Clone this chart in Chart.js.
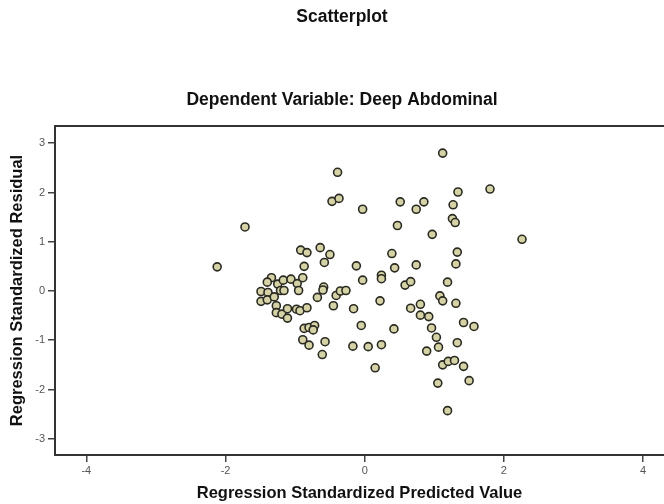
<!DOCTYPE html>
<html>
<head>
<meta charset="utf-8">
<script src="https://cdn.jsdelivr.net/npm/chart.js@4"></script>
<style>
  html, body { margin: 0; padding: 0; background: #ffffff; }
  #wrap { width: 664px; height: 504px; }
</style>
</head>
<body>
<div id="wrap"><canvas id="scatter"></canvas></div>
<script>
const chartTitle = "Scatterplot";
const chartSubtitle = "Dependent Variable: Deep Abdominal";
const xTitle = "Regression Standardized Predicted Value";
const yTitle = "Regression Standardized Residual";

const xTicks = [-4, -2, 0, 2, 4];
const yTicks = [-3, -2, -1, 0, 1, 2, 3];

// standardized predicted values (x) and residuals (y)
const predicted = [
    -2.12, -1.72, -0.39, -0.47, -0.37, -0.03, 0.51, 0.74, 0.85, 0.47,
    0.97, 1.12, 1.34, 1.27, 1.26, 1.30, 1.80, 2.26, -0.92, -0.83,
    -0.64, -0.50, -0.58, 0.39, 0.43, 0.74, -0.12, -0.87, -0.03, 0.24,
    0.24, 0.58, 0.66, 1.33, 1.31, 1.19, 1.08, 1.12, 1.31, 0.22,
    0.80, 0.66, -1.34, -1.40, -1.25, -1.17, -1.06, -0.97, -0.89, -0.95,
    -1.21, -1.16, -1.49, -1.39, -1.49, -1.40, -1.30, -0.59, -0.60, -0.68,
    -0.41, -0.35, -0.27, -0.45, -1.27, -1.27, -1.19, -1.11, -1.11, -0.98,
    -0.93, -0.83, -0.87, -0.80, -0.72, -0.74, -0.89, -0.80, -0.57, -0.61,
    -0.16, -0.05, -0.17, 0.05, 0.24, 0.15, 0.42, 0.80, 0.92, 0.96,
    1.03, 1.06, 0.89, 1.12, 1.20, 1.29, 1.42, 1.50, 1.05, 1.19,
    1.42, 1.57, 1.33
];
const residuals = [
    0.49, 1.30, 2.41, 1.82, 1.88, 1.66, 1.81, 1.66, 1.81, 1.33,
    1.15, 2.80, 2.01, 1.75, 1.47, 1.39, 2.07, 1.05, 0.83, 0.78,
    0.88, 0.74, 0.58, 0.76, 0.47, 0.53, 0.51, 0.50, 0.22, 0.32,
    0.25, 0.12, 0.19, 0.79, 0.55, 0.18, -0.10, -0.20, -0.25, -0.20,
    -0.27, -0.35, 0.27, 0.18, 0.14, 0.22, 0.24, 0.15, 0.27, 0.01,
    0.01, 0.01, -0.01, -0.03, -0.21, -0.18, -0.12, 0.08, 0.02, -0.13,
    -0.09, 0.00, 0.01, -0.30, -0.30, -0.44, -0.47, -0.36, -0.55, -0.37,
    -0.40, -0.34, -0.76, -0.74, -0.70, -0.79, -0.99, -1.10, -1.03, -1.29,
    -0.36, -0.70, -1.12, -1.13, -1.09, -1.56, -0.77, -0.49, -0.52, -0.75,
    -0.94, -1.14, -1.22, -1.50, -1.43, -1.41, -1.53, -1.82, -1.87, -2.43,
    -0.64, -0.72, -1.05
];

const fontFamily = '"Liberation Sans", Arial, Helvetica, sans-serif';

// SPSS style headings above the plot plus the top edge of the frame
const frameAndTitles = {
    id: 'frameAndTitles',
    afterDraw: (chart) => {
        const {ctx, chartArea} = chart;
        ctx.save();
        ctx.fillStyle = '#111111';
        ctx.textAlign = 'center';
        ctx.textBaseline = 'middle';
        ctx.font = 'bold 17.5px ' + fontFamily;
        ctx.fillText(chartTitle, 342, 17);
        ctx.fillText(chartSubtitle, 342, 100);

        ctx.strokeStyle = '#333333';
        ctx.lineWidth = 2;
        ctx.beginPath();
        ctx.moveTo(chartArea.left - 1, chartArea.top);
        ctx.lineTo(chartArea.right, chartArea.top);
        ctx.stroke();
        ctx.restore();
    }
};

const points = predicted.map((x, i) => ({x: x, y: residuals[i]}));

const ctx = document.getElementById('scatter').getContext('2d');

const scatter = new Chart(ctx, {
    type: 'scatter',
    data: {
        datasets: [{
            data: points,
            pointRadius: 4,
            pointHoverRadius: 4,
            pointBorderWidth: 1.6,
            pointBackgroundColor: '#d5d3a6',
            pointBorderColor: '#2a2a22'
        }]
    },
    options: {
        responsive: true,
        maintainAspectRatio: false,
        animation: false,
        events: [],
        layout: {
            autoPadding: false,
            padding: {top: 126, right: 0, bottom: 0, left: 0}
        },
        scales: {
            x: {
                type: 'linear',
                min: -4.45,
                max: 4.30,
                afterBuildTicks: (scale) => {
                    scale.ticks = xTicks.map(v => ({value: v}));
                },
                afterFit: (scale) => { scale.height = 49; },
                border: {display: true, color: '#333333', width: 2},
                grid: {
                    drawOnChartArea: false,
                    drawTicks: true,
                    tickLength: 7,
                    color: '#444444',
                    lineWidth: 1.5
                },
                ticks: {
                    padding: 2,
                    color: '#555555',
                    font: {size: 11, family: fontFamily}
                },
                title: {
                    display: true,
                    text: xTitle,
                    color: '#111111',
                    padding: {top: 0, bottom: 1},
                    font: {size: 16.5, weight: 'bold', family: fontFamily}
                }
            },
            y: {
                type: 'linear',
                min: -3.33,
                max: 3.35,
                afterBuildTicks: (scale) => {
                    scale.ticks = yTicks.map(v => ({value: v}));
                },
                afterFit: (scale) => { scale.width = 55; },
                border: {display: true, color: '#333333', width: 2},
                grid: {
                    drawOnChartArea: false,
                    drawTicks: true,
                    tickLength: 7,
                    color: '#444444',
                    lineWidth: 1.5
                },
                ticks: {
                    padding: 3,
                    color: '#555555',
                    font: {size: 11, family: fontFamily}
                },
                title: {
                    display: true,
                    text: yTitle,
                    color: '#111111',
                    padding: {top: 8, bottom: 0},
                    font: {size: 16.5, weight: 'bold', family: fontFamily}
                }
            }
        },
        plugins: {
            legend: {display: false},
            tooltip: {enabled: false}
        }
    },
    plugins: [frameAndTitles]
});
</script>
</body>
</html>
